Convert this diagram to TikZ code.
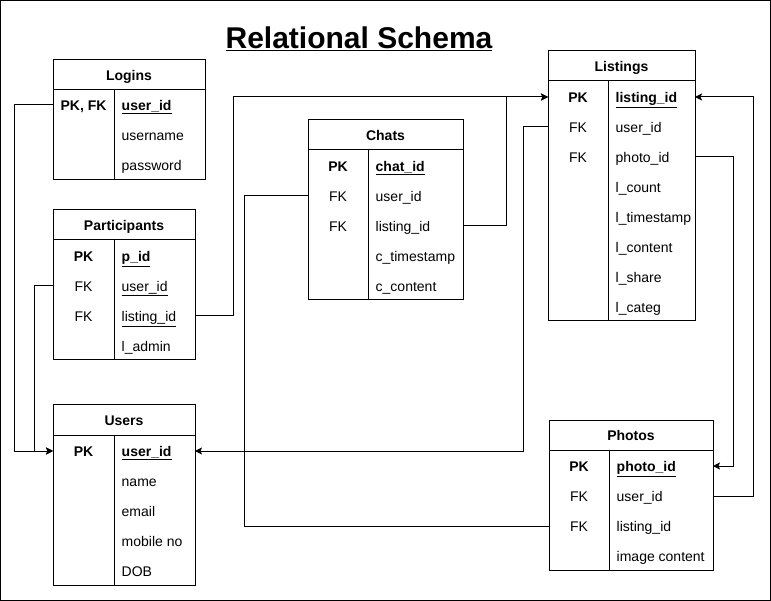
\documentclass[tikz,border=0pt]{standalone}
\usepackage{fontspec}
\setmainfont{Liberation Sans}
\usetikzlibrary{arrows.meta}
\tikzset{
  tablebox/.style={draw, line width=1pt, inner sep=0pt, outer sep=0pt},
  tableline/.style={line width=1pt},
  headtext/.style={font=\fontsize{14}{16}\selectfont\bfseries, inner sep=0pt, text height=11pt, text depth=0pt},
  rowcell/.style={inner sep=0pt, outer sep=0pt, minimum height=30pt},
  keytext/.style={font=\fontsize{14}{16}\selectfont, inner sep=0pt, text height=11pt, text depth=0pt},
  fieldtext/.style={font=\fontsize{14}{16}\selectfont, inner sep=0pt, text height=11pt, text depth=0pt, anchor=west},
  conn/.style={line width=1pt},
  arr/.style={conn, -{Stealth[length=7pt, width=7pt, inset=1.5pt]}},
}
\newcommand\ertable[7]{%
  \node[tablebox, minimum width={#3-#2}, minimum height={#5-#4}] (#1) at ({(#2+#3)/2},{(#4+#5)/2}) {};
  \draw[tableline] (#2,#4+30) -- (#3,#4+30);
  \draw[tableline] (#6,#4+30) -- (#6,#5);
  \node[headtext] (#1-title) at ({(#2+#3)/2},#4+15) {#7};
}
\newcommand\errow[7]{%
  \node[rowcell, minimum width={#4-#2}] (#1) at ({(#2+#4)/2},#5) {};
  \node[keytext] (#1-k) at ({(#2+#3)/2},#5) {#6};
  \node[fieldtext] (#1-f) at (#3+7.5,#5) {#7};
}
\begin{document}
\begin{tikzpicture}[x=1pt, y=-1pt]
\useasboundingbox (0,0) rectangle (771,601);
\draw[line width=1pt] (0.5,0.5) rectangle (770,600);
\node[font=\fontsize{30}{34}\selectfont\bfseries, anchor=base, inner sep=0pt] (title) at (359,49) {\underline{Relational Schema}};
% Logins
\ertable{Lg}{53}{205}{60}{180}{114}{Logins}
\errow{Lg-user}{53}{114}{205}{105}{\textbf{PK, FK}}{\textbf{\underline{user\_id}}}
\errow{Lg-name}{53}{114}{205}{135}{}{username}
\errow{Lg-pass}{53}{114}{205}{165}{}{password}
% Participants
\ertable{P}{53}{195}{210}{360}{114}{Participants}
\errow{P-pid}{53}{114}{195}{256}{\textbf{PK}}{\textbf{\underline{p\_id}}}
\errow{P-user}{53}{114}{195}{286}{FK}{\underline{user\_id}}
\errow{P-listing}{53}{114}{195}{316}{FK}{\underline{listing\_id}}
\errow{P-admin}{53}{114}{195}{346}{}{l\_admin}
% Users
\ertable{U}{53}{195}{405}{585}{114}{Users}
\errow{U-user}{53}{114}{195}{451}{\textbf{PK}}{\textbf{\underline{user\_id}}}
\errow{U-name}{53}{114}{195}{481}{}{name}
\errow{U-email}{53}{114}{195}{511}{}{email}
\errow{U-mobile}{53}{114}{195}{541}{}{mobile no}
\errow{U-dob}{53}{114}{195}{571}{}{DOB}
% Chats
\ertable{C}{308}{463}{120}{300}{368}{Chats}
\errow{C-chat}{308}{368}{463}{166}{\textbf{PK}}{\textbf{\underline{chat\_id}}}
\errow{C-user}{308}{368}{463}{196}{FK}{user\_id}
\errow{C-listing}{308}{368}{463}{226}{FK}{listing\_id}
\errow{C-time}{308}{368}{463}{256}{}{c\_timestamp}
\errow{C-content}{308}{368}{463}{286}{}{c\_content}
% Listings
\ertable{Li}{548}{695}{51}{321}{608}{Listings}
\errow{Li-listing}{548}{608}{695}{97}{\textbf{PK}}{\textbf{\underline{listing\_id}}}
\errow{Li-user}{548}{608}{695}{127}{FK}{user\_id}
\errow{Li-photo}{548}{608}{695}{157}{FK}{photo\_id}
\errow{Li-count}{548}{608}{695}{187}{}{l\_count}
\errow{Li-time}{548}{608}{695}{217}{}{l\_timestamp}
\errow{Li-content}{548}{608}{695}{247}{}{l\_content}
\errow{Li-share}{548}{608}{695}{277}{}{l\_share}
\errow{Li-categ}{548}{608}{695}{307}{}{l\_categ}
% Photos
\ertable{Ph}{549}{713}{420}{570}{609}{Photos}
\errow{Ph-photo}{549}{609}{713}{466}{\textbf{PK}}{\textbf{\underline{photo\_id}}}
\errow{Ph-user}{549}{609}{713}{496}{FK}{user\_id}
\errow{Ph-listing}{549}{609}{713}{526}{FK}{listing\_id}
\errow{Ph-image}{549}{609}{713}{556}{}{image content}
% connectors
\draw[arr] (Lg-user.west) -- ++(-39,0) |- (U-user.west);
\draw[arr] (P-user.west) -- ++(-19,0) |- (U-user.west);
\draw[arr] (P-listing.east) -- ++(38,0) |- (Li-listing.west);
\draw[arr] (C-listing.east) -- ++(43,0) |- (Li-listing.west);
\draw[conn] (C-user.west) -- ++(-64,0) |- (Ph-listing.west);
\draw[arr] (Li-user.west) -- ++(-25,0) |- (U-user.east);
\draw[arr] (Li-photo.east) -- ++(38,0) |- (Ph-photo.east);
\draw[arr] (Ph-user.east) -- ++(40,0) |- (Li-listing.east);
\end{tikzpicture}
\end{document}
